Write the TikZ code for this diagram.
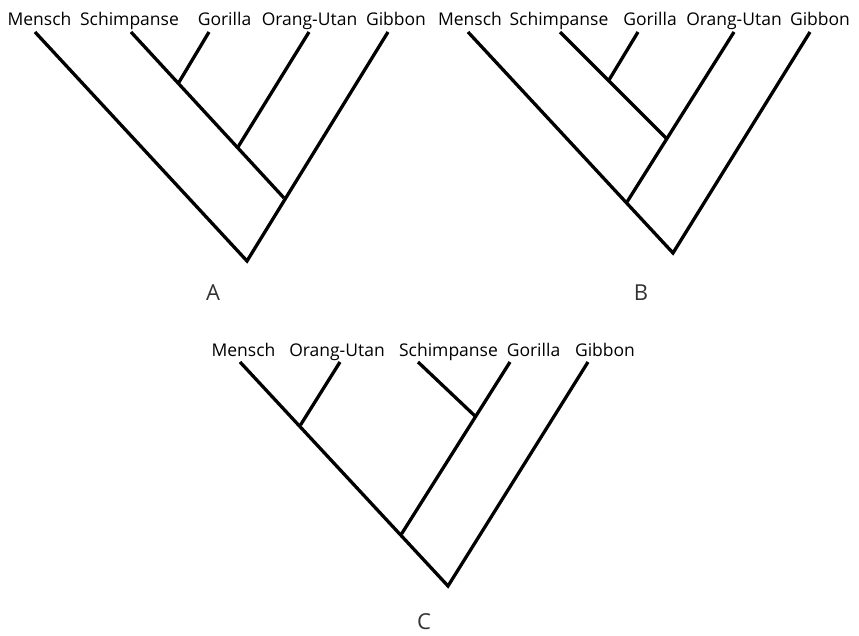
\documentclass[tikz,border=0pt]{standalone}
\usepackage{fontspec}
\setmainfont{Open Sans}
\begin{document}
\begin{tikzpicture}[x=1pt,y=-1pt,
  taxon/.style={anchor=base,inner sep=0pt,font=\fontsize{17.5}{20}\selectfont},
  treelabel/.style={inner sep=0pt,text=black!80,font=\fontsize{22}{25}\selectfont},
  branch/.style={line width=3.3pt,line cap=butt,line join=miter}]
\useasboundingbox (0,0) rectangle (859,635);
% ---------------- Tree A ----------------
\node[taxon] (A1) at (39.5,25) {Mensch};
\node[taxon] (A2) at (129.5,25) {Schimpanse};
\node[taxon] (A3) at (224.5,25) {Gorilla};
\node[taxon] (A4) at (309.5,25) {Orang-Utan};
\node[taxon] (A5) at (396,25) {Gibbon};
\coordinate (Am) at (35,32);
\coordinate (As) at (131,32);
\coordinate (Ag) at (209,32);
\coordinate (Ao) at (309,32);
\coordinate (Ab) at (388,32);
\coordinate (Aroot) at (247,261);
\coordinate (Aj1) at (178.5,83);
\coordinate (Aj2) at (238,147);
\coordinate (Aj3) at (284,198);
\draw[branch] (Am) -- (Aroot) -- (Ab);
\draw[branch] (As) -- (Aj3);
\draw[branch] (Ag) -- (Aj1);
\draw[branch] (Ao) -- (Aj2);
\node[treelabel] (LA) at (213,293) {A};
% ---------------- Tree B ----------------
\node[taxon] (B1) at (470,25) {Mensch};
\node[taxon] (B2) at (559,25) {Schimpanse};
\node[taxon] (B3) at (650,25) {Gorilla};
\node[taxon] (B4) at (734,25) {Orang-Utan};
\node[taxon] (B5) at (820,25) {Gibbon};
\coordinate (Bm) at (468,32);
\coordinate (Bs) at (560,32);
\coordinate (Bg) at (638,32);
\coordinate (Bo) at (734,32);
\coordinate (Bb) at (810,32);
\coordinate (Broot) at (673,253);
\coordinate (Bj1) at (609,80);
\coordinate (Bj2) at (666,138);
\coordinate (Bj3) at (627,202);
\draw[branch] (Bm) -- (Broot) -- (Bb);
\draw[branch] (Bo) -- (Bj3);
\draw[branch] (Bs) -- (Bj2);
\draw[branch] (Bg) -- (Bj1);
\node[treelabel] (LB) at (641,293) {B};
% ---------------- Tree C ----------------
\node[taxon] (C1) at (243.5,356) {Mensch};
\node[taxon] (C2) at (337,356) {Orang-Utan};
\node[taxon] (C3) at (448.5,356) {Schimpanse};
\node[taxon] (C4) at (533.5,356) {Gorilla};
\node[taxon] (C5) at (605,356) {Gibbon};
\coordinate (Cm) at (240,362);
\coordinate (Co) at (340,362);
\coordinate (Cs) at (418,362);
\coordinate (Cg) at (510,362);
\coordinate (Cb) at (588,362);
\coordinate (Croot) at (448,586);
\coordinate (Cj1) at (300.5,425);
\coordinate (Cj2) at (475,416);
\coordinate (Cj3) at (401.5,534);
\draw[branch] (Cm) -- (Croot) -- (Cb);
\draw[branch] (Co) -- (Cj1);
\draw[branch] (Cg) -- (Cj3);
\draw[branch] (Cs) -- (Cj2);
\node[treelabel] (LC) at (424,622) {C};
\end{tikzpicture}
\end{document}
